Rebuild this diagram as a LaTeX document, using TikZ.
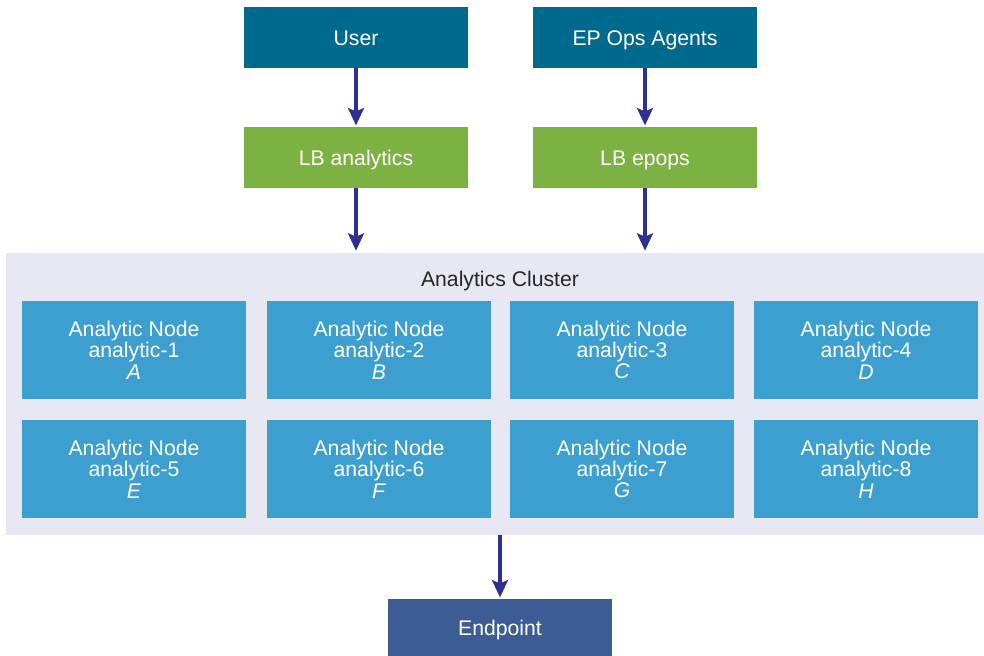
\documentclass[tikz,border=0pt]{standalone}
\usepackage{fontspec}
\setmainfont{Liberation Sans}
\usetikzlibrary{arrows.meta}
\definecolor{topblue}{HTML}{006A8E}
\definecolor{lbgreen}{HTML}{7BB241}
\definecolor{nodeblue}{HTML}{3C9FCF}
\definecolor{endblue}{HTML}{3D5C94}
\definecolor{clusterbg}{HTML}{E8E8F3}
\definecolor{arrowblue}{HTML}{2E3192}
\definecolor{labelgray}{HTML}{262626}
\begin{document}
\begin{tikzpicture}[x=0.75pt,y=-0.75pt,
  box/.style={minimum width=168pt,minimum height=45.75pt,inner sep=0pt,text=white,
    font=\fontsize{15.9}{16}\selectfont,align=center},
  onebox/.style={box,text height=12pt,text depth=0pt},
  anode/.style={box,fill=nodeblue,minimum height=73.5pt},
  flow/.style={draw=arrowblue,line width=2.4pt,-{Stealth[length=13pt,width=12pt,inset=2.5pt]},shorten >=1pt}]
\useasboundingbox (0,0) rectangle (984,656);
\fill[white] (0,0) rectangle (984,656);
\node[onebox,fill=topblue] (user) at (356,37.5) {User};
\node[onebox,fill=topblue] (ep) at (645,37.5) {EP Ops Agents};
\node[onebox,fill=lbgreen] (lba) at (356,157.5) {LB analytics};
\node[onebox,fill=lbgreen] (lbe) at (645,157.5) {LB epops};
\node[fill=clusterbg,minimum width=733.5pt,minimum height=211.5pt,inner sep=0pt] (cluster) at (495,393.5) {};
\node[text=labelgray,font=\fontsize{15.9}{16}\selectfont,text height=12pt,text depth=0pt] (ctitle) at (500,278) {Analytics Cluster};
\node[anode] (n1) at (134,350) {Analytic Node\\analytic-1\\\textit{A}};
\node[anode] (n2) at (379,350) {Analytic Node\\analytic-2\\\textit{B}};
\node[anode] (n3) at (622,350) {Analytic Node\\analytic-3\\\textit{C}};
\node[anode] (n4) at (866,350) {Analytic Node\\analytic-4\\\textit{D}};
\node[anode] (n5) at (134,469) {Analytic Node\\analytic-5\\\textit{E}};
\node[anode] (n6) at (379,469) {Analytic Node\\analytic-6\\\textit{F}};
\node[anode] (n7) at (622,469) {Analytic Node\\analytic-7\\\textit{G}};
\node[anode] (n8) at (866,469) {Analytic Node\\analytic-8\\\textit{H}};
\node[onebox,fill=endblue,minimum height=42.75pt] (endp) at (500,627.5) {Endpoint};
\coordinate (ca) at (356,252);
\coordinate (ce) at (645,252);
\coordinate (cb) at (500,535);
\draw[flow] (user.south) -- (lba.north);
\draw[flow] (ep.south) -- (lbe.north);
\draw[flow] (lba.south) -- (ca);
\draw[flow] (lbe.south) -- (ce);
\draw[flow] (cb) -- (endp.north);
\end{tikzpicture}
\end{document}
